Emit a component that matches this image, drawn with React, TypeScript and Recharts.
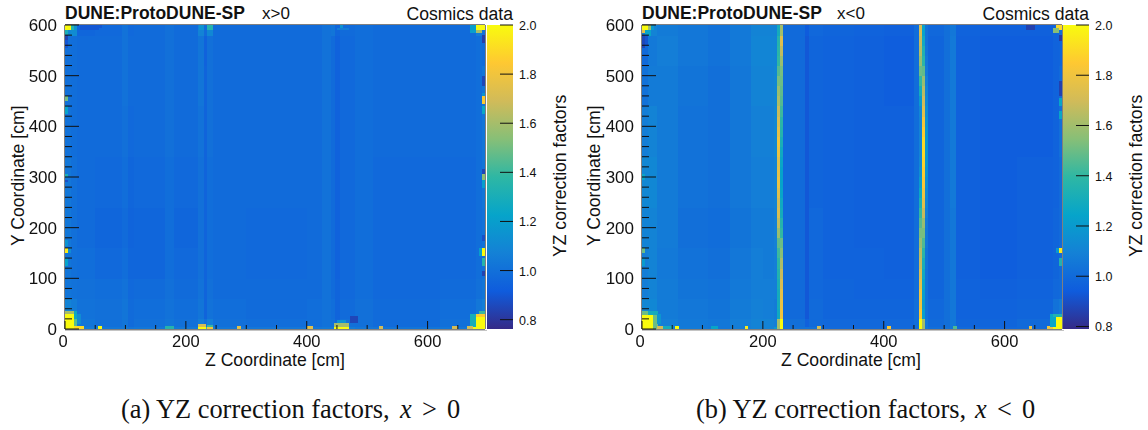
import React from "react";
import { ScatterChart, Scatter, BarChart, Bar, XAxis, YAxis } from "recharts";

// z bins (cm) and y bands (cm) of the coarse read-off of the two maps
const yBands = [0, 5, 20, 60, 100, 160, 240, 340, 440, 520, 580, 600];

const zBinsPos = [0, 10, 20, 50, 95, 105, 115, 165, 180, 220, 230, 235, 245, 300, 400, 425, 440, 447, 455, 480, 510, 560, 620, 680, 690, 695];
const zBinsNeg = [0, 10, 25, 60, 110, 145, 180, 200, 218, 223, 233, 270, 277, 300, 350, 400, 450, 458, 473, 500, 510, 520, 560, 620, 680, 690, 695];

// rows go from y = 0 upwards
const valuesPos = [
  [1.30, 1.30, 1.05, 1.03, 1.04, 1.02, 1.03, 1.10, 1.04, 1.30, 1.40, 1.30, 1.03, 1.03, 1.03, 1.04, 1.04, 1.04, 1.05, 1.03, 1.02, 1.02, 1.03, 1.30, 1.60],
  [1.30, 1.22, 1.02, 1.00, 1.02, 0.98, 1.00, 1.02, 1.00, 1.05, 1.00, 1.06, 1.00, 0.99, 0.99, 1.01, 1.00, 0.96, 1.00, 1.00, 0.98, 0.98, 1.00, 1.20, 1.30],
  [1.08, 1.05, 1.01, 1.00, 1.02, 0.98, 0.99, 1.01, 0.99, 1.02, 0.95, 1.01, 0.99, 0.98, 0.99, 1.01, 0.99, 0.95, 0.98, 1.00, 0.98, 0.98, 0.99, 1.03, 1.06],
  [1.02, 1.01, 1.00, 0.99, 1.01, 0.97, 0.98, 1.00, 0.98, 1.01, 0.95, 1.00, 0.98, 0.98, 0.98, 1.01, 0.98, 0.95, 0.97, 0.99, 0.97, 0.97, 0.98, 1.00, 1.02],
  [1.02, 1.00, 0.99, 0.97, 0.99, 0.96, 0.96, 0.99, 0.97, 1.00, 0.95, 0.99, 0.98, 0.97, 0.98, 1.01, 0.98, 0.94, 0.97, 0.99, 0.97, 0.97, 0.97, 0.99, 1.00],
  [1.03, 1.00, 0.98, 0.96, 0.98, 0.95, 0.96, 0.99, 0.96, 1.00, 0.95, 0.99, 0.98, 0.97, 0.98, 1.01, 0.98, 0.94, 0.97, 0.99, 0.97, 0.97, 0.97, 0.99, 1.01],
  [1.03, 1.00, 0.98, 0.97, 0.99, 0.96, 0.97, 0.99, 0.97, 1.00, 0.95, 0.99, 0.98, 0.98, 0.98, 1.01, 0.98, 0.94, 0.97, 0.99, 0.97, 0.97, 0.97, 0.99, 1.02],
  [1.01, 0.99, 0.98, 0.98, 1.00, 0.97, 0.98, 1.00, 0.98, 1.01, 0.95, 1.00, 0.98, 0.98, 0.98, 1.01, 0.98, 0.94, 0.97, 0.99, 0.98, 0.98, 0.98, 0.99, 1.02],
  [1.00, 0.99, 0.98, 0.98, 1.01, 0.98, 0.98, 1.00, 0.98, 1.02, 0.95, 1.00, 0.98, 0.98, 0.98, 1.01, 0.98, 0.94, 0.97, 0.99, 0.98, 0.98, 0.98, 0.99, 1.02],
  [1.00, 0.99, 0.98, 0.98, 1.01, 0.98, 0.98, 1.00, 0.98, 1.02, 0.94, 1.00, 0.98, 0.98, 0.98, 1.01, 0.98, 0.94, 0.97, 0.99, 0.98, 0.98, 0.98, 0.99, 0.98],
  [1.10, 1.08, 0.96, 0.97, 1.01, 0.97, 0.98, 1.00, 0.98, 1.08, 0.98, 1.10, 0.98, 0.98, 0.98, 1.01, 1.02, 0.96, 0.98, 0.99, 0.98, 0.98, 0.98, 1.05, 1.00],
];

const valuesNeg = [
  [1.30, 1.25, 1.08, 1.07, 1.05, 1.08, 1.10, 1.10, 1.20, 1.40, 1.03, 1.03, 1.03, 1.00, 1.00, 1.00, 1.02, 1.02, 1.02, 1.03, 1.05, 1.00, 0.99, 1.00, 1.30, 1.60],
  [1.32, 1.22, 1.08, 1.06, 1.05, 1.08, 1.10, 1.10, 1.08, 1.12, 1.02, 0.96, 1.00, 0.99, 0.99, 0.99, 1.02, 1.00, 1.00, 1.02, 1.05, 0.98, 0.98, 1.00, 1.25, 1.35],
  [1.12, 1.12, 1.07, 1.05, 1.04, 1.07, 1.09, 1.08, 1.07, 1.04, 1.00, 0.93, 1.00, 0.98, 0.98, 0.98, 1.02, 1.00, 0.99, 1.02, 1.05, 0.97, 0.97, 0.98, 1.03, 1.06],
  [1.08, 1.10, 1.07, 1.04, 1.03, 1.06, 1.08, 1.08, 1.08, 1.03, 1.00, 0.93, 0.99, 0.98, 0.97, 0.97, 1.01, 1.00, 0.98, 1.02, 1.05, 0.97, 0.96, 0.97, 0.99, 1.00],
  [1.08, 1.10, 1.06, 1.03, 1.02, 1.05, 1.08, 1.07, 1.08, 1.03, 1.00, 0.93, 0.99, 0.97, 0.97, 0.96, 1.01, 1.00, 0.98, 1.02, 1.05, 0.96, 0.95, 0.96, 0.98, 1.00],
  [1.10, 1.10, 1.07, 1.02, 1.01, 1.04, 1.07, 1.07, 1.09, 1.03, 1.00, 0.93, 0.99, 0.97, 0.96, 0.96, 1.01, 1.00, 0.98, 1.02, 1.05, 0.96, 0.95, 0.96, 0.98, 1.00],
  [1.12, 1.12, 1.07, 1.03, 1.02, 1.05, 1.08, 1.08, 1.10, 1.03, 1.00, 0.93, 0.98, 0.97, 0.96, 0.96, 1.01, 1.00, 0.98, 1.02, 1.06, 0.96, 0.95, 0.96, 0.97, 1.00],
  [1.08, 1.10, 1.07, 1.03, 1.02, 1.05, 1.09, 1.09, 1.12, 1.04, 1.00, 0.93, 0.98, 0.97, 0.96, 0.96, 1.01, 1.00, 0.98, 1.02, 1.06, 0.96, 0.95, 0.95, 0.97, 1.02],
  [1.03, 1.07, 1.07, 1.04, 1.02, 1.05, 1.10, 1.10, 1.12, 1.04, 1.00, 0.93, 0.98, 0.97, 0.96, 0.95, 1.01, 1.00, 0.98, 1.02, 1.06, 0.96, 0.95, 0.95, 0.97, 1.00],
  [1.00, 1.06, 1.08, 1.05, 1.03, 1.06, 1.11, 1.11, 1.11, 1.03, 1.00, 0.93, 0.98, 0.97, 0.96, 0.95, 1.01, 1.02, 0.98, 1.02, 1.06, 0.96, 0.95, 0.95, 0.97, 0.98],
  [1.08, 1.10, 1.07, 1.05, 1.03, 1.06, 1.10, 1.10, 1.10, 1.04, 1.00, 0.94, 0.99, 0.98, 0.97, 0.96, 1.01, 1.02, 0.99, 1.02, 1.05, 0.97, 0.96, 0.96, 0.98, 1.02],
];

// the strips at z = 223-233 and z = 458-473 in the x<0 map, one value per 20 cm going up
const stripY = [0, 20, 40, 60, 80, 100, 120, 140, 160, 180, 200, 220, 240, 260, 280, 300, 320, 340, 360, 380, 400, 420, 440, 460, 480, 500, 520, 540, 560, 580];
const stripNegA = [1.60, 1.28, 1.30, 1.30, 1.32, 1.35, 1.38, 1.42, 1.48, 1.58, 1.66, 1.72, 1.70, 1.74, 1.78, 1.76, 1.74, 1.78, 1.80, 1.76, 1.72, 1.68, 1.62, 1.58, 1.52, 1.46, 1.40, 1.38, 1.36, 1.30];
const stripNegB = [2.00, 1.80, 1.78, 1.76, 1.72, 1.68, 1.62, 1.55, 1.50, 1.40, 1.36, 1.30, 1.28, 1.25, 1.24, 1.24, 1.26, 1.28, 1.32, 1.36, 1.38, 1.42, 1.46, 1.48, 1.50, 1.52, 1.58, 1.66, 1.74, 1.60];
const stripNegC = [2.00, 1.84, 1.80, 1.80, 1.76, 1.72, 1.68, 1.65, 1.58, 1.52, 1.46, 1.40, 1.32, 1.26, 1.20, 1.15, 1.12, 1.10, 1.10, 1.10, 1.10, 1.12, 1.20, 1.30, 1.40, 1.50, 1.58, 1.64, 1.68, 1.72];
const stripNegD = [1.60, 1.22, 1.20, 1.22, 1.25, 1.28, 1.32, 1.38, 1.45, 1.52, 1.58, 1.68, 1.76, 1.80, 1.84, 1.86, 1.88, 1.90, 1.90, 1.86, 1.82, 1.75, 1.70, 1.65, 1.58, 1.48, 1.38, 1.34, 1.28, 1.24];
const stripNegE = [1.05, 1.03, 1.03, 1.03, 1.03, 1.03, 1.04, 1.04, 1.05, 1.05, 1.06, 1.08, 1.10, 1.12, 1.14, 1.16, 1.18, 1.18, 1.18, 1.18, 1.16, 1.14, 1.12, 1.10, 1.08, 1.06, 1.05, 1.04, 1.03, 1.03];

// hot and dead spots round the edges: z0, z1, y0, y1, value
const spotsPos = [
  [0, 10, 590, 600, 2.0], [10, 15, 590, 600, 1.35], [15, 20, 590, 600, 1.15], [10, 20, 580, 590, 1.12], [0, 5, 580, 590, 1.3],
  [0, 5, 570, 580, 0.84], [0, 5, 555, 570, 0.9], [0, 5, 450, 460, 1.5], [0, 5, 425, 440, 1.22], [0, 5, 300, 305, 1.3], [0, 5, 290, 295, 0.88],
  [0, 5, 150, 160, 1.95], [0, 5, 125, 140, 1.22], [0, 5, 165, 175, 1.15], [5, 10, 150, 160, 1.12], [50, 60, 595, 600, 0.9],
  [25, 55, 590, 600, 0.9], [222, 230, 590, 600, 1.15], [235, 245, 590, 600, 1.35],
  [455, 460, 595, 600, 1.15], [450, 470, 590, 595, 1.05],
  [680, 695, 590, 600, 2.0], [670, 680, 585, 600, 1.2], [680, 690, 585, 590, 1.6],
  [690, 695, 565, 580, 0.82], [690, 695, 480, 500, 0.85], [690, 695, 460, 465, 1.15], [690, 695, 445, 460, 1.85],
  [690, 695, 425, 440, 1.25], [690, 695, 305, 315, 0.85], [690, 695, 295, 305, 1.55], [690, 695, 280, 295, 1.2],
  [690, 695, 145, 160, 2.0], [685, 690, 145, 160, 1.2], [690, 695, 125, 140, 1.35], [690, 695, 175, 185, 0.88], [690, 695, 105, 115, 0.84],
  [0, 15, 0, 30, 2.0], [15, 20, 0, 20, 1.45], [0, 15, 30, 35, 1.6], [15, 20, 20, 35, 1.25], [20, 25, 10, 30, 1.12], [15, 30, 0, 5, 1.9],
  [55, 60, 0, 5, 2.0], [165, 180, 0, 5, 1.35], [220, 232, 0, 5, 2.0], [220, 232, 5, 10, 1.7], [235, 245, 0, 5, 1.8], [235, 245, 5, 8, 1.4],
  [285, 290, 0, 5, 1.75], [400, 410, 0, 5, 1.75], [445, 470, 0, 5, 2.0], [445, 470, 5, 12, 1.6], [450, 465, 12, 18, 1.15],
  [472, 485, 12, 25, 0.85], [520, 525, 0, 5, 1.7], [640, 650, 0, 5, 1.7], [665, 675, 0, 5, 1.5],
  [675, 695, 0, 25, 2.0], [680, 695, 25, 30, 1.85], [685, 695, 30, 35, 1.4], [670, 680, 5, 30, 1.3], [665, 675, 0, 5, 1.7],
];

const spotsNeg = [
  [0, 10, 590, 600, 2.0], [10, 15, 590, 600, 1.6], [0, 5, 585, 590, 1.75], [15, 20, 590, 600, 1.2], [5, 15, 580, 590, 1.25],
  [0, 5, 555, 580, 0.88], [5, 10, 560, 580, 0.92], [0, 5, 150, 160, 1.5], [0, 5, 125, 140, 1.2], [0, 5, 295, 305, 1.25],
  [635, 650, 590, 600, 0.86], [685, 695, 590, 600, 1.9], [680, 690, 585, 595, 1.55], [690, 695, 570, 580, 0.84],
  [690, 695, 460, 490, 0.86], [690, 695, 440, 455, 1.25], [690, 695, 415, 430, 1.25], [690, 695, 150, 160, 1.95], [685, 690, 150, 160, 1.2], [690, 695, 125, 140, 1.35],
  [0, 18, 0, 28, 2.0], [0, 10, 28, 35, 1.5], [18, 25, 0, 28, 1.5], [10, 25, 28, 35, 1.3], [25, 30, 10, 30, 1.18], [25, 35, 0, 5, 1.7], [35, 50, 0, 5, 1.3],
  [55, 60, 0, 6, 2.0], [170, 175, 0, 5, 1.95], [115, 125, 0, 5, 1.25], [290, 295, 0, 5, 1.7], [405, 412, 0, 5, 1.85], [515, 520, 0, 5, 1.45], [640, 645, 0, 5, 1.8],
  [680, 695, 0, 25, 2.0], [670, 680, 0, 5, 1.8], [675, 685, 5, 30, 1.25], [680, 695, 25, 30, 1.35],
];

const stripsNeg = [
  { z0: 223, z1: 228, values: stripNegA },
  { z0: 228, z1: 233, values: stripNegB },
  { z0: 458, z1: 463, values: stripNegC },
  { z0: 463, z1: 468, values: stripNegD },
  { z0: 468, z1: 473, values: stripNegE },
];

const zTicks = [0, 50, 100, 150, 200, 250, 300, 350, 400, 450, 500, 550, 600, 650];
const zLabels = [0, 200, 400, 600];
const yTicks = [0, 20, 40, 60, 80, 100, 120, 140, 160, 180, 200, 220, 240, 260, 280, 300, 320, 340, 360, 380, 400, 420, 440, 460, 480, 500, 520, 540, 560, 580, 600];
const yLabels = [0, 100, 200, 300, 400, 500, 600];
const barTicks = [0.8, 1.0, 1.2, 1.4, 1.6, 1.8, 2.0];

// ROOT's kBird palette
const bird = [
  [53, 42, 135], [15, 92, 221], [20, 129, 214], [6, 164, 202], [46, 183, 164],
  [135, 191, 119], [209, 187, 89], [254, 200, 50], [249, 251, 14],
];

const Z_MAX = 695;
const Y_MAX = 600;
const PLOT_W = 420;
const PLOT_H = 304;
const AXIS_FONT = "'Liberation Sans', Arial, sans-serif";
const INK = "#111";

const birdColor = (v: number, lo: number, hi: number) => {
  const t = Math.min(1, Math.max(0, (v - lo) / (hi - lo))) * (bird.length - 1);
  const i = Math.min(bird.length - 2, Math.floor(t));
  const f = t - i;
  const c = bird[i].map((a, k) => Math.round(a + (bird[i + 1][k] - a) * f));
  return `rgb(${c[0]},${c[1]},${c[2]})`;
};

interface Cell {
  z0: number;
  z1: number;
  y0: number;
  y1: number;
  value: number;
}

const buildCells = (zBins: number[], values: number[][], spots: number[][], strips: { z0: number; z1: number; values: number[] }[]) => {
  const cells: Cell[] = [];
  values.forEach((row, r) =>
    row.forEach((value, c) =>
      cells.push({ z0: zBins[c], z1: zBins[c + 1], y0: yBands[r], y1: yBands[r + 1], value })
    )
  );
  strips.forEach((s) =>
    s.values.forEach((value, i) =>
      cells.push({ z0: s.z0, z1: s.z1, y0: stripY[i], y1: stripY[i] + 20, value })
    )
  );
  spots.forEach(([z0, z1, y0, y1, value]) => cells.push({ z0, z1, y0, y1, value }));
  return cells;
};

const BottomTick = ({ x, y, payload }: any) => (
  <g>
    <line x1={x} x2={x} y1={y} y2={y - (zLabels.includes(payload.value) ? 8 : 4)} stroke={INK} />
    {zLabels.includes(payload.value) && (
      <text x={x - (payload.value === 0 ? 2 : 0)} y={y + 18} textAnchor="middle" fontSize={16.5} fontFamily={AXIS_FONT} fill={INK}>
        {payload.value}
      </text>
    )}
  </g>
);

const TopTick = ({ x, y, payload }: any) => (
  <line x1={x} x2={x} y1={y} y2={y + (zLabels.includes(payload.value) ? 8 : 4)} stroke={INK} />
);

const LeftTick = ({ x, y, payload }: any) => (
  <g>
    <line x1={x} x2={x + (yLabels.includes(payload.value) ? 14 : 7)} y1={y} y2={y} stroke={INK} />
    {yLabels.includes(payload.value) && (
      <text x={x - 8} y={y + 6} textAnchor="end" fontSize={17} fontFamily={AXIS_FONT} fill={INK}>
        {payload.value}
      </text>
    )}
  </g>
);

const RightTick = ({ x, y, payload }: any) => (
  <line x1={x} x2={x - (yLabels.includes(payload.value) ? 14 : 7)} y1={y} y2={y} stroke={INK} />
);

const BarTick = ({ x, y, payload }: any) => (
  <g>
    <line x1={x} x2={x - 13} y1={y} y2={y} stroke={INK} />
    <text x={x + 6} y={y + 5} fontSize={12.5} fontFamily={AXIS_FONT} fill={INK}>
      {payload.value.toFixed(1)}
    </text>
  </g>
);

const HeatMap = ({ cells, lo, hi }: { cells: Cell[]; lo: number; hi: number }) => {
  const HeatCell = ({ cx, cy, payload }: any) => (
    <rect
      x={cx}
      y={cy}
      width={((payload.z1 - payload.z0) * PLOT_W) / Z_MAX + 0.4}
      height={((payload.y1 - payload.y0) * PLOT_H) / Y_MAX + 0.4}
      fill={birdColor(payload.value, lo, hi)}
      shapeRendering="crispEdges"
    />
  );
  // every axis takes 1px of the margin, so plot left is 65 and plot top is 25
  return (
    <ScatterChart width={510} height={360} margin={{ left: 64, top: 24, right: 24, bottom: 30 }}>
      <Scatter data={cells} shape={HeatCell} isAnimationActive={false} />
      <XAxis dataKey="z0" type="number" domain={[0, Z_MAX]} ticks={zTicks} interval={0} height={1} tickSize={0} tickMargin={0} tick={BottomTick} stroke="#000" allowDataOverflow />
      <XAxis xAxisId="top" orientation="top" type="number" domain={[0, Z_MAX]} ticks={zTicks} interval={0} height={1} tickSize={0} tickMargin={0} tick={TopTick} stroke="#000" />
      <YAxis dataKey="y1" type="number" domain={[0, Y_MAX]} ticks={yTicks} interval={0} width={1} tickSize={0} tickMargin={0} tick={LeftTick} stroke="#000" allowDataOverflow />
      <YAxis yAxisId="right" orientation="right" type="number" domain={[0, Y_MAX]} ticks={yTicks} interval={0} width={1} tickSize={0} tickMargin={0} tick={RightTick} stroke="#000" />
    </ScatterChart>
  );
};

const ColorBar = ({ left, lo, hi, id }: { left: number; lo: number; hi: number; id: string }) => (
  <div style={{ position: "absolute", left, top: 0 }}>
    <BarChart width={70} height={360} data={[{ name: "scale", range: [lo, hi] }]} margin={{ left: 0, top: 25, right: 43, bottom: 31 }} barCategoryGap={0}>
      <defs>
        <linearGradient id={id} x1="0" y1="1" x2="0" y2="0">
          {bird.map((c, i) => (
            <stop key={i} offset={i / (bird.length - 1)} stopColor={`rgb(${c[0]},${c[1]},${c[2]})`} />
          ))}
        </linearGradient>
      </defs>
      <XAxis dataKey="name" hide />
      <YAxis orientation="right" type="number" domain={[lo, hi]} ticks={barTicks} interval={0} width={1} tickSize={0} tickMargin={0} tick={BarTick} axisLine={false} allowDataOverflow />
      <Bar dataKey="range" fill={`url(#${id})`} isAnimationActive={false} />
    </BarChart>
  </div>
);

const panels = [
  { plotLeft: 65, sign: "x>0", label: "(a) YZ correction factors,", rel: ">", capX: 121, titleSignX: 262, zTitleX: 205, yTitleX: 24, barTitleX: 566, cosmicsX: 513 },
  { plotLeft: 642, sign: "x<0", label: "(b) YZ correction factors,", rel: "<", capX: 696, titleSignX: 837, zTitleX: 781, yTitleX: 600, barTitleX: 1142, cosmicsX: 1089 },
];

const Annotations = () => (
  <svg width={1148} height={430} style={{ position: "absolute", left: 0, top: 0, pointerEvents: "none" }} fontFamily={AXIS_FONT} fill={INK}>
    {panels.map((p) => (
      <g key={p.sign}>
        <text x={p.plotLeft} y={19} fontSize={17.5} fontWeight="bold">DUNE:ProtoDUNE-SP</text>
        <text x={p.titleSignX} y={19} fontSize={17}>{p.sign}</text>
        <text x={p.cosmicsX} y={20} fontSize={17.6} textAnchor="end">Cosmics data</text>
        <text x={p.zTitleX} y={366} fontSize={17.6}>Z Coordinate [cm]</text>
        <text transform={`translate(${p.yTitleX},246) rotate(-90)`} fontSize={17.6}>Y Coordinate [cm]</text>
        <text transform={`translate(${p.barTitleX},257) rotate(-90)`} fontSize={17.6}>YZ correction factors</text>
        <g fontFamily="'Liberation Serif', serif" fontSize={26.4}>
          <text x={p.capX} y={418}>{p.label}</text>
          <text x={p.capX + 279} y={418} fontStyle="italic">x</text>
          <text x={p.capX + 301} y={418}>{p.rel}</text>
          <text x={p.capX + 326} y={418}>0</text>
        </g>
      </g>
    ))}
  </svg>
);

const cellsPos = buildCells(zBinsPos, valuesPos, spotsPos, []);
const cellsNeg = buildCells(zBinsNeg, valuesNeg, spotsNeg, stripsNeg);

const App = () => (
  <div style={{ position: "absolute", left: 0, top: 0, width: 1148, height: 430, background: "#fff", overflow: "hidden" }}>
    <div style={{ position: "absolute", left: 65, top: 330, width: 422, height: 1, background: "#c4c4c4" }} />
    <div style={{ position: "absolute", left: 642, top: 330, width: 422, height: 1, background: "#c4c4c4" }} />
    <div style={{ position: "absolute", left: 0, top: 0, filter: "blur(0.4px)" }}>
      <HeatMap cells={cellsPos} lo={0.762} hi={2.0} />
    </div>
    <div style={{ position: "absolute", left: 577, top: 0, filter: "blur(0.4px)" }}>
      <HeatMap cells={cellsNeg} lo={0.79} hi={2.0} />
    </div>
    <ColorBar left={487} lo={0.762} hi={2.0} id="birdPos" />
    <ColorBar left={1063} lo={0.79} hi={2.0} id="birdNeg" />
    <Annotations />
  </div>
);

export default App;
